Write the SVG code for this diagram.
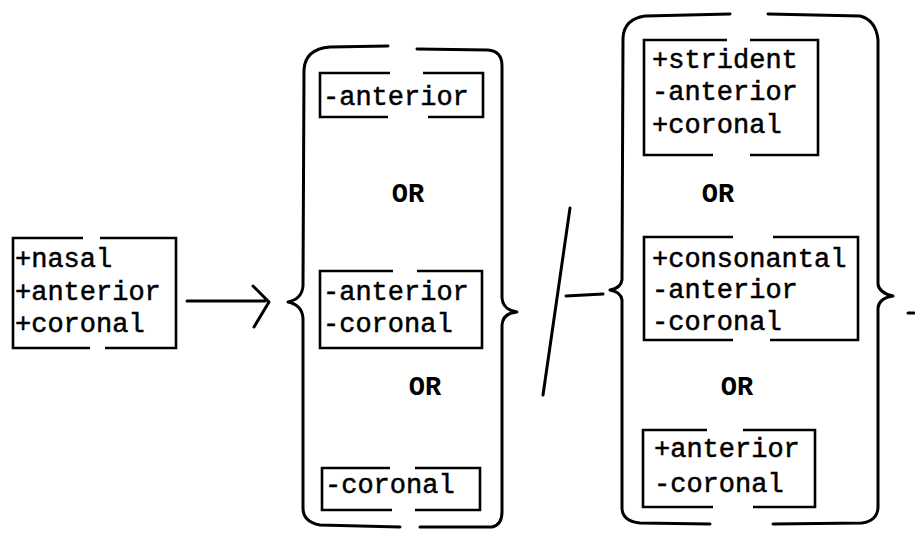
<svg xmlns="http://www.w3.org/2000/svg" width="915" height="539" viewBox="0 0 915 539">
<style>
.ln{fill:none;stroke:#000;stroke-width:3;stroke-linecap:round;stroke-linejoin:round}
.bx{fill:none;stroke:#000;stroke-width:2.6;stroke-linecap:butt;stroke-linejoin:miter}
.t{font-family:"Liberation Mono","DejaVu Sans Mono",monospace;font-size:27px;fill:#000;stroke:#000;stroke-width:0.5}
.or{font-family:"Liberation Mono","DejaVu Sans Mono",monospace;font-size:27px;font-weight:bold;fill:#000;text-anchor:middle}
</style>
<rect width="915" height="539" fill="#fff"/>
<g id="input">
<path class="bx" d="M83 238 L13 238 L13 348 L90 348 M105 348 L176 348 L176 238 L100 238"/>
<text class="t" x="15" y="267">+nasal</text>
<text class="t" x="15" y="300">+anterior</text>
<text class="t" x="15" y="332">+coronal</text>
</g>
<g id="output-brace">
<path class="ln" d="M388 46 L330 47 Q305 49 304 70 L303 286 Q302 299 288 302 Q302 305 303 318 L303 508 Q303 522 320 525 L400 527 M420 527 L492 527 Q502 525 502 512 L502 325 Q503 313 517 312 Q503 310 502 298 L502 66 Q502 51 488 50 L417 49"/>
</g>
<g id="out-1">
<path class="bx" d="M390 73 L320 73 L320 117 L388 117 M428 117 L483 117 L483 73 L423 73"/>
<text class="t" x="323" y="105">-anterior</text>
</g>
<text class="or" x="408" y="202">OR</text>
<g id="out-2">
<path class="bx" d="M393 271 L320 271 L320 348 L482 348 L482 271 L417 271"/>
<text class="t" x="323" y="300">-anterior</text>
<text class="t" x="323" y="332">-coronal</text>
</g>
<text class="or" x="425" y="395">OR</text>
<g id="out-3">
<path class="bx" d="M390 468 L322 468 L322 510 L392 510 M415 510 L480 510 L480 468 L415 468"/>
<text class="t" x="325" y="493">-coronal</text>
</g>
<g id="env-brace">
<path class="ln" d="M730 14 L645 16 Q624 19 623 38 L622 280 Q621 288 610 290 Q621 292 622 300 L622 508 Q622 521 640 523 L710 524 M773 524 L862 523 Q877 521 878 508 L878 308 Q879 298 893 296 Q879 293 878 284 L878 40 Q876 20 860 16 L768 14"/>
</g>
<g id="env-1">
<path class="bx" d="M727 40 L644 40 L644 155 L713 155 M750 155 L818 155 L818 40 L750 40"/>
<text class="t" x="652" y="68">+strident</text>
<text class="t" x="652" y="100">-anterior</text>
<text class="t" x="652" y="133">+coronal</text>
</g>
<text class="or" x="718" y="202">OR</text>
<g id="env-2">
<path class="bx" d="M733 237 L644 237 L644 340 L733 340 M770 340 L858 340 L858 237 L773 237"/>
<text class="t" x="652" y="267">+consonantal</text>
<text class="t" x="652" y="298">-anterior</text>
<text class="t" x="652" y="330">-coronal</text>
</g>
<text class="or" x="737" y="395">OR</text>
<g id="env-3">
<path class="bx" d="M707 430 L643 430 L643 507 L713 507 M753 507 L815 507 L815 430 L743 430"/>
<text class="t" x="654" y="457">+anterior</text>
<text class="t" x="654" y="492">-coronal</text>
</g>
<g id="connectors">
<path class="ln" d="M187 301 L265 301 M253 286 L269 302 L254 327"/>
<path class="ln" d="M570 208 L543 395"/>
<path class="ln" d="M566 296 L603 294"/>
<path class="ln" d="M908 313 L914 313"/>
</g>
</svg>
